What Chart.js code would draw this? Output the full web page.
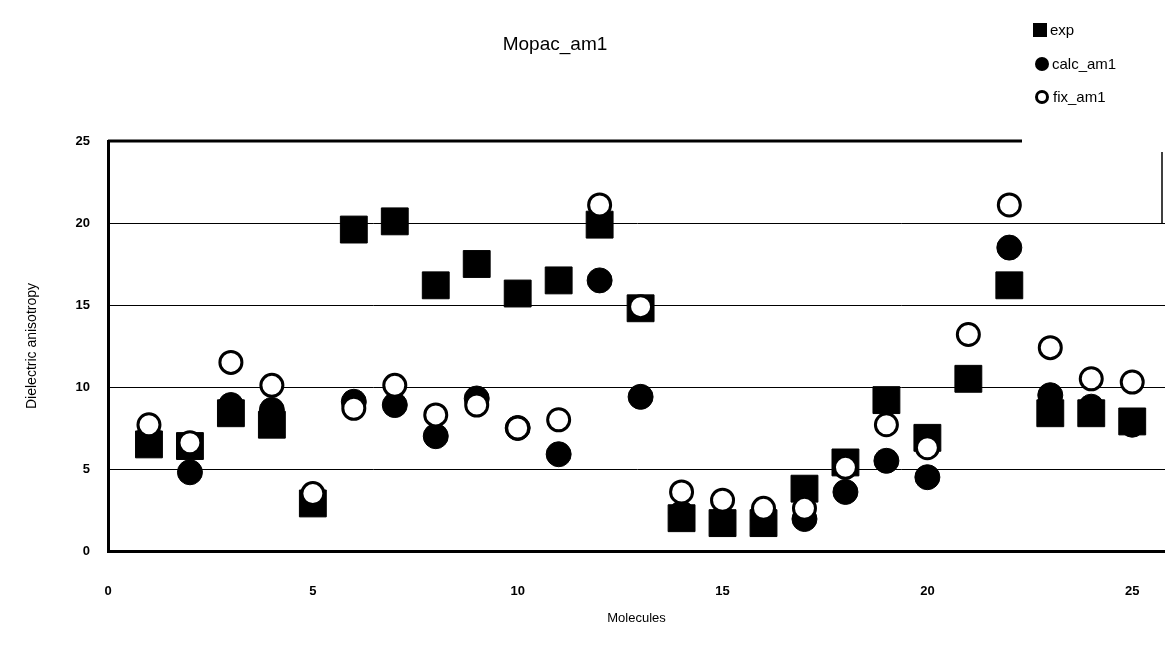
<!DOCTYPE html>
<html>
<head>
<meta charset="utf-8">
<title>Mopac_am1</title>
<script src="https://cdn.jsdelivr.net/npm/chart.js@4/dist/chart.umd.min.js"></script>
<style>
    html, body { margin: 0; padding: 0; background: #fff; }
    #wrap { width: 1165px; height: 651px; }
</style>
</head>
<body>
<div id="wrap"><canvas id="chart" width="1165" height="651"></canvas></div>
<script>
// Data
const molecules = [1, 2, 3, 4, 5, 6, 7, 8, 9, 10, 11, 12, 13, 14, 15, 16, 17, 18, 19, 20, 21, 22, 23, 24, 25];
const expValues = [6.5, 6.4, 8.4, 7.7, 2.9, 19.6, 20.1, 16.2, 17.5, 15.7, 16.5, 19.9, 14.8, 2.0, 1.7, 1.7, 3.8, 5.4, 9.2, 6.9, 10.5, 16.2, 8.4, 8.4, 7.9];
const calcValues = [7.0, 4.8, 8.9, 8.6, 3.0, 9.1, 8.9, 7.0, 9.3, 7.5, 5.9, 16.5, 9.4, 2.3, 2.0, 1.9, 1.95, 3.6, 5.5, 4.5, 10.5, 18.5, 9.5, 8.8, 7.7];
const fixValues = [7.7, 6.6, 11.5, 10.1, 3.5, 8.7, 10.1, 8.3, 8.9, 7.5, 8.0, 21.1, 14.9, 3.6, 3.1, 2.6, 2.6, 5.1, 7.7, 6.3, 13.2, 21.1, 12.4, 10.5, 10.3];
const seriesNames = ['exp', 'calc_am1', 'fix_am1'];
const chartTitle = 'Mopac_am1';
const xTitle = 'Molecules';
const yTitle = 'Dielectric anisotropy';

const FONT = "'Liberation Sans', Arial, sans-serif";

const toPoints = vals => vals.map((v, i) => ({ x: molecules[i], y: v }));

// title, legend and the partial frame lines of the original
const decorations = {
    id: 'decorations',
    beforeDatasetsDraw: (chart) => {
        const ctx = chart.ctx;
        const y = chart.scales.y;
        const x = chart.scales.x;
        ctx.save();
        ctx.strokeStyle = '#000';
        ctx.lineWidth = 3;
        ctx.beginPath();
        ctx.moveTo(x.left, y.getPixelForValue(25));
        ctx.lineTo(1022, y.getPixelForValue(25));
        ctx.stroke();
        ctx.lineWidth = 1.5;
        ctx.beginPath();
        ctx.moveTo(1162, 152);
        ctx.lineTo(1162, y.getPixelForValue(20));
        ctx.stroke();
        ctx.restore();
    },
    afterDraw: (chart) => {
        const ctx = chart.ctx;
        ctx.save();
        ctx.fillStyle = '#000';
        ctx.font = '19px ' + FONT;
        ctx.textAlign = 'center';
        ctx.textBaseline = 'middle';
        ctx.fillText(chartTitle, 555, 45);

        ctx.font = '15px ' + FONT;
        ctx.textAlign = 'left';
        // exp
        ctx.fillRect(1033, 23, 14, 14);
        ctx.fillText(seriesNames[0], 1050, 31);
        // calc
        ctx.beginPath();
        ctx.arc(1042, 64, 7, 0, Math.PI * 2);
        ctx.fill();
        ctx.fillText(seriesNames[1], 1052, 65);
        // fix
        ctx.beginPath();
        ctx.arc(1042, 97, 5.5, 0, Math.PI * 2);
        ctx.lineWidth = 3;
        ctx.strokeStyle = '#000';
        ctx.stroke();
        ctx.fillText(seriesNames[2], 1053, 98);
        ctx.restore();
    }
};

new Chart(document.getElementById('chart'), {
    type: 'scatter',
    data: {
        datasets: [
            {
                label: seriesNames[0],
                data: toPoints(expValues),
                pointStyle: 'rect',
                pointRadius: 19,
                backgroundColor: '#000',
                borderColor: '#000',
                borderWidth: 1,
                order: 3
            },
            {
                label: seriesNames[1],
                data: toPoints(calcValues),
                pointStyle: 'circle',
                pointRadius: 12.5,
                backgroundColor: '#000',
                borderColor: '#000',
                borderWidth: 1,
                order: 2
            },
            {
                label: seriesNames[2],
                data: toPoints(fixValues),
                pointStyle: 'circle',
                pointRadius: 11,
                backgroundColor: '#fff',
                borderColor: '#000',
                borderWidth: 3,
                order: 1
            }
        ]
    },
    options: {
        responsive: false,
        animation: false,
        events: [],
        layout: {
            autoPadding: false,
            padding: { top: 141, right: 0, left: 0, bottom: 0 }
        },
        plugins: {
            legend: { display: false },
            title: { display: false },
            tooltip: { enabled: false }
        },
        scales: {
            x: {
                type: 'linear',
                min: 0,
                max: 25.8,
                afterFit: (s) => {
                    s.height = 100;
                    s.paddingLeft = 0;
                    s.paddingRight = 0;
                },
                grid: { display: false, drawTicks: false },
                border: { display: true, color: '#000', width: 3 },
                ticks: {
                    stepSize: 5,
                    includeBounds: false,
                    padding: 33,
                    color: '#000',
                    font: { family: FONT, size: 13, weight: 'bold' }
                },
                title: {
                    display: true,
                    text: xTitle,
                    color: '#000',
                    font: { family: FONT, size: 13 },
                    padding: { top: 0, bottom: 25 }
                }
            },
            y: {
                min: 0,
                max: 25,
                afterFit: (s) => {
                    s.width = 108;
                    s.paddingTop = 0;
                    s.paddingBottom = 0;
                },
                grid: {
                    color: '#000',
                    lineWidth: (c) => (c.tick && (c.tick.value === 0 || c.tick.value === 25)) ? 0 : 1,
                    drawTicks: false
                },
                border: { display: true, color: '#000', width: 3 },
                ticks: {
                    stepSize: 5,
                    padding: 18,
                    color: '#000',
                    font: { family: FONT, size: 13, weight: 'bold' }
                },
                title: {
                    display: true,
                    text: yTitle,
                    color: '#000',
                    font: { family: FONT, size: 14 },
                    padding: { top: 24, bottom: 0 }
                }
            }
        }
    },
    plugins: [decorations]
});
</script>
</body>
</html>
